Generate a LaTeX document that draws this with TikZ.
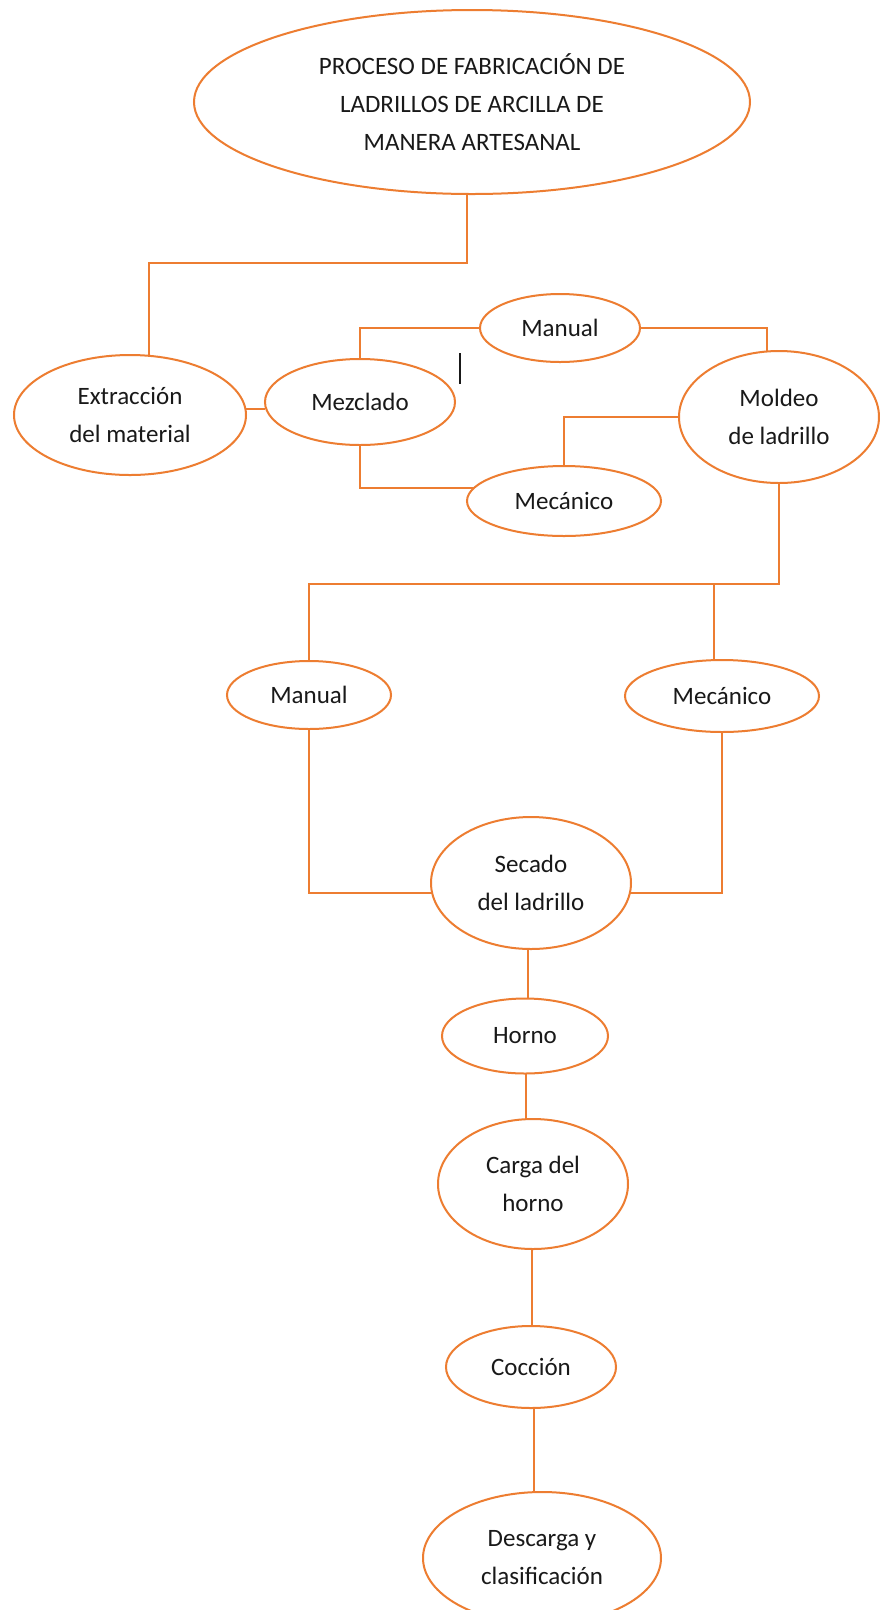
\documentclass[tikz,border=0pt]{standalone}
\usepackage{fontspec}
\setmainfont{Carlito}
\usetikzlibrary{shapes.geometric,calc}
\definecolor{org}{RGB}{237,125,49}
\definecolor{txt}{RGB}{25,25,25}
\begin{document}
\begin{tikzpicture}[x=1pt,y=-1pt,
  bub/.style={ellipse,draw=org,line width=2pt,inner sep=0pt,outer sep=0pt,
    align=center,text=txt,font=\fontsize{25}{38}\selectfont},
  lnk/.style={draw=org,line width=2pt},
  cursor/.style={draw=txt,line width=1.6pt}]
\useasboundingbox (0,0) rectangle (880,1610);
\fill[white] (0,0) rectangle (880,1610);

% nodes
\node[bub,minimum width=556pt,minimum height=184pt] (title) at (472,102)
  {PROCESO DE FABRICACIÓN DE\\LADRILLOS DE ARCILLA DE\\MANERA ARTESANAL};
\node[bub,minimum width=232pt,minimum height=120pt] (extr) at (130,415) {Extracción\\del material};
\node[bub,minimum width=190pt,minimum height=86pt] (mezc) at (360,402) {Mezclado};
\node[bub,minimum width=160pt,minimum height=68pt] (man1) at (560,328) {Manual};
\node[bub,minimum width=200pt,minimum height=132pt] (mold) at (779,417) {Moldeo\\de ladrillo};
\node[bub,minimum width=194pt,minimum height=70pt] (mec1) at (564,501) {Mecánico};
\node[bub,minimum width=164pt,minimum height=68pt] (man2) at (309,695) {Manual};
\node[bub,minimum width=194pt,minimum height=72pt] (mec2) at (722,696) {Mecánico};
\node[bub,minimum width=200pt,minimum height=132pt] (sec) at (531,883) {Secado\\del ladrillo};
\node[bub,minimum width=166pt,minimum height=75pt] (horno) at (525,1036) {Horno};
\node[bub,minimum width=190pt,minimum height=130pt] (carga) at (533,1184) {Carga del\\horno};
\node[bub,minimum width=170pt,minimum height=82pt] (coc) at (531,1367) {Cocción};
\node[bub,minimum width=238pt,minimum height=132pt] (desc) at (542,1558) {Descarga y\\clasificación};

% connectors
\coordinate (t1) at (467,263);
\coordinate (e1) at (149,263);
\draw[lnk] (t1 |- title.south) -- (t1) -- (e1) -- (e1 |- extr.north);

\coordinate (l1) at (0,409);
\draw[lnk] (extr.east |- l1) -- (mezc.west |- l1);

\draw[lnk] (mezc.north) |- (man1.west);

\coordinate (m1) at (767,0);
\draw[lnk] (man1.east) -| (m1 |- mold.north);

\draw[lnk] (mold.west) -| (mec1.north);

\draw[lnk] (mezc.south) |- (mec1.172);

\coordinate (h1) at (0,584);
\draw[lnk] (mold.south) |- (h1 -| man2.north) -- (man2.north);
\coordinate (b2) at (714,584);
\draw[lnk] (b2) -- (b2 |- mec2.north);

\draw[lnk] (man2.south) |- (sec.186);
\draw[lnk] (mec2.south) |- (sec.354);

\coordinate (v1) at (528,0);
\draw[lnk] (v1 |- sec.south) -- (v1 |- horno.north);
\coordinate (v2) at (526,0);
\draw[lnk] (v2 |- horno.south) -- (v2 |- carga.north);
\coordinate (v3) at (532,0);
\draw[lnk] (v3 |- carga.south) -- (v3 |- coc.north);
\coordinate (v4) at (534,0);
\draw[lnk] (v4 |- coc.south) -- (v4 |- desc.north);

% text cursor
\draw[cursor] (460,353) -- (460,384);
\end{tikzpicture}
\end{document}
